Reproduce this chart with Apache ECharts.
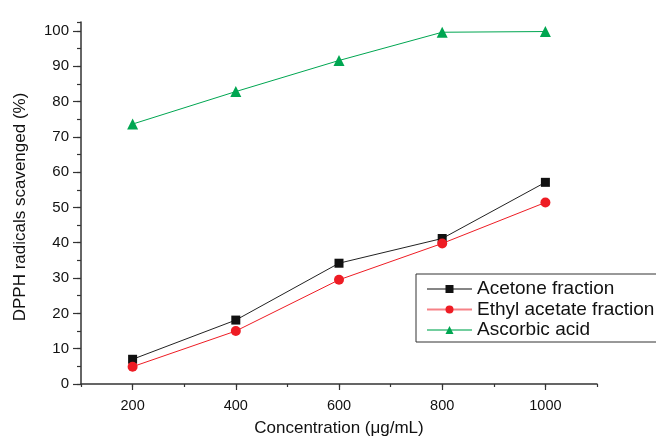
<!DOCTYPE html>
<html>
<head>
<meta charset="utf-8">
<script src="https://cdn.jsdelivr.net/npm/echarts@6/dist/echarts.min.js"></script>
<style>
html,body{margin:0;padding:0;background:#fff;}
#chart{width:656px;height:437px;}
</style>
</head>
<body>
<div id="chart"></div>
<script>
const concentrations = [200, 400, 600, 800, 1000];
const acetoneFraction = [7.0, 18.1, 34.2, 41.2, 57.1];
const ethylAcetateFraction = [4.9, 15.0, 29.5, 39.8, 51.4];
const ascorbicAcid = [73.6, 82.8, 91.6, 99.6, 99.8];
const xMajorTicks = [200, 400, 600, 800, 1000];
const yMajorTicks = [0, 10, 20, 30, 40, 50, 60, 70, 80, 90, 100];
const seriesNames = ['Acetone fraction', 'Ethyl acetate fraction', 'Ascorbic acid'];

const pair = (vals) => concentrations.map((c, i) => [c, vals[i]]);
const font = '"Liberation Sans", Arial, sans-serif';
const axisColor = '#333';
const gridPos = { left: 81, top: 22, right: 59, bottom: 53, containLabel: false, outerBoundsMode: 'none' };

const chart = echarts.init(document.getElementById('chart'), null, { renderer: 'canvas' });
chart.setOption({
  animation: false,
  backgroundColor: '#fff',
  grid: [Object.assign({}, gridPos), Object.assign({}, gridPos)],
  legend: {
    left: 416, top: 274,
    orient: 'vertical',
    itemWidth: 45, itemHeight: 10, itemGap: 1.5,
    padding: [5.5, 6, 2.5, 10],
    borderColor: '#333', borderWidth: 1,
    backgroundColor: '#fff',
    lineStyle: { opacity: 0.55 },
    textStyle: { fontFamily: font, fontSize: 19, color: '#111' },
    data: seriesNames
  },
  xAxis: [{
    gridIndex: 0, type: 'value', min: 100, max: 1100, interval: 100,
    name: 'Concentration (μg/mL)', nameLocation: 'middle', nameGap: 36,
    nameTextStyle: { fontFamily: font, fontSize: 17, color: '#111' },
    axisLine: { show: true, lineStyle: { color: axisColor, width: 1.5 } },
    axisTick: { show: true, inside: false, length: 3, lineStyle: { color: axisColor, width: 1.2 } },
    axisLabel: {
      fontFamily: font, fontSize: 14.5, color: '#111', margin: 14,
      formatter: v => (xMajorTicks.indexOf(v) >= 0 ? String(v) : '')
    },
    splitLine: { show: false }
  }, {
    gridIndex: 1, type: 'value', min: 100, max: 1100, position: 'bottom',
    axisLine: { show: false },
    axisTick: { show: true, length: 6, customValues: xMajorTicks, lineStyle: { color: axisColor, width: 1.2 } },
    axisLabel: { show: false },
    splitLine: { show: false }
  }],
  yAxis: [{
    gridIndex: 0, type: 'value', min: 0, max: 102.5, interval: 5,
    name: 'DPPH radicals scavenged (%)', nameLocation: 'middle', nameGap: 52,
    nameTextStyle: { fontFamily: font, fontSize: 17, color: '#111', padding: [0, 8, 0, 0] },
    axisLine: { show: true, lineStyle: { color: axisColor, width: 1.5 } },
    axisTick: { show: true, inside: false, length: 4, lineStyle: { color: axisColor, width: 1.2 } },
    axisLabel: {
      fontFamily: font, fontSize: 15, color: '#111', margin: 12,
      formatter: v => (yMajorTicks.indexOf(v) >= 0 ? String(v) : '')
    },
    splitLine: { show: false }
  }, {
    gridIndex: 1, type: 'value', min: 0, max: 102.5, position: 'left',
    axisLine: { show: false },
    axisTick: { show: true, length: 8, customValues: yMajorTicks, lineStyle: { color: axisColor, width: 1.2 } },
    axisLabel: { show: false },
    splitLine: { show: false }
  }],
  series: [{
    name: seriesNames[0], type: 'line', xAxisIndex: 0, yAxisIndex: 0,
    data: pair(acetoneFraction),
    symbol: 'rect', symbolSize: 9,
    lineStyle: { color: '#222', width: 1 },
    itemStyle: { color: '#111' }
  }, {
    name: seriesNames[1], type: 'line', xAxisIndex: 0, yAxisIndex: 0,
    data: pair(ethylAcetateFraction),
    symbol: 'circle', symbolSize: 10,
    lineStyle: { color: '#ee1c24', width: 1 },
    itemStyle: { color: '#ee1c24' }
  }, {
    name: seriesNames[2], type: 'line', xAxisIndex: 0, yAxisIndex: 0,
    data: pair(ascorbicAcid),
    symbol: 'triangle', symbolSize: 11,
    lineStyle: { color: '#00a651', width: 1 },
    itemStyle: { color: '#00a651' }
  }]
});
</script>
</body>
</html>
